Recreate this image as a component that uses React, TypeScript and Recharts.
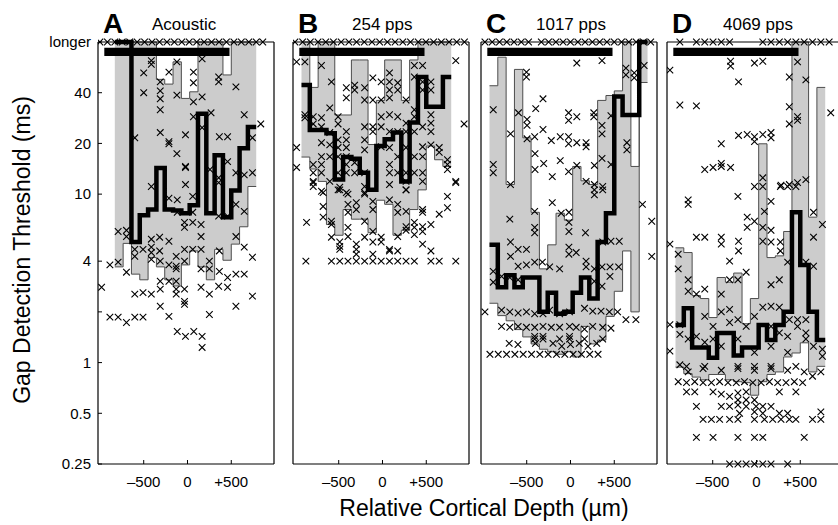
import React from 'react';
import {
  ComposedChart,
  Area,
  Line,
  Scatter,
  XAxis,
  YAxis,
  ReferenceArea,
  ReferenceLine,
} from 'recharts';

type Pt = [number, number];

// Shared depth bins (µm), left edges; each panel starts at its own first bin
const binEdges = [-925, -830, -735, -640, -545, -450, -355, -260, -165, -70, 25, 120, 215, 310, 405, 500, 595, 690, 785, 880];

// ---- A: Acoustic ----
const aFirstBin = 1;
const aHigh = [80, 80, 80, 80, 80, 48, 45, 61, 37, 40.5, 80, 80, 80, 51, 80, 80, 80];
const aLow = [3.7, 5.1, 3.35, 3.1, 4.2, 3.7, 3.1, 2.85, 3.8, 4.6, 3.7, 3.1, 4.7, 4.05, 5.05, 6.4, 11.1];
const aMedian = [80, 80, 5.2, 7.5, 8.1, 14.3, 8.1, 8.0, 7.7, 8.6, 30, 7.7, 17, 7.3, 10.5, 18.7, 25];
const aLonger = [-1000, -915, -830, -745, -660, -575, -490, -405, -320, -235, -150, -65, 20, 105, 190, 275, 360, 445, 530, 615, 700, 785, 860];
const aPoints: Pt[] = [
  [-602, 21.6], [-500, 52.5], [-500, 40], [-413, 62], [-413, 59], [-311, 46.4], [-311, 41], [-311, 36.8],
  [-311, 31.7], [-311, 23.2], [-212, 53], [-212, 20.5], [-212, 19.9], [-121, 61], [-121, 38.7], [-121, 17.4],
  [-23, 22.5], [-23, 14.6], [-23, 14.4], [-23, 11.4], [68, 53], [68, 45.8], [68, 35.3], [68, 28.8], [167, 63.5],
  [167, 37.8], [167, 24.8], [269, 30.4], [257, 14], [356, 49.6], [356, 46.4], [356, 12.5], [356, 11.7],
  [364, 21.9], [458, 21.9], [458, 15.6], [553, 43.3], [553, 13.4], [648, 29.6], [648, 13], [742, 13.4],
  [742, 21.6], [837, 26.1], [-413, 11.1],
  [-792, 6.0], [-697, 6.1], [-697, 5.6], [-886, 3.8], [-792, 3.95], [-697, 3.44], [-981, 2.8], [-886, 1.86],
  [-792, 1.86], [-697, 1.73], [-602, 1.86], [-508, 1.86], [-602, 2.55], [-508, 2.6], [-413, 2.55], [-602, 4.7],
  [-508, 4.7], [-602, 4.27], [-413, 5.4], [-413, 4.85], [-413, 4.5], [-318, 5.55], [-318, 4.6], [-212, 5.25],
  [-413, 4.1], [-311, 4.0], [-212, 3.8], [-311, 3.04], [-212, 3.04], [-311, 2.73], [-311, 2.16], [-212, 1.88],
  [-212, 9.45], [-117, 9.25], [-117, 7.8], [-34, 6.8], [-34, 6.35], [60, 9.7], [60, 7.8], [60, 6.8], [-34, 4.7],
  [60, 4.7], [-129, 4.27], [-34, 4.0], [-129, 3.73], [-129, 3.6], [-129, 3.04], [-129, 2.73], [-34, 2.73],
  [-129, 2.55], [-34, 2.31], [-34, 2.22], [155, 6.6], [155, 5.6], [155, 4.7], [155, 3.6], [155, 2.8], [250, 4.0],
  [250, 3.6], [250, 2.55], [250, 1.93], [356, 7.4], [364, 4.6], [364, 3.48], [356, 2.84], [458, 3.2], [458, 2.8],
  [458, 7.4], [553, 8.7], [553, 5.6], [553, 3.35], [553, 2.16], [648, 7.9], [648, 4.85], [648, 3.35], [742, 4.22],
  [742, 2.48], [-117, 1.53], [-23, 1.43], [72, 1.53], [167, 1.43], [167, 1.23],
];

// ---- B: 254 pps ----
const bFirstBin = 0;
const bHigh = [80, 43, 80, 80, 29.5, 29.5, 62.6, 62.6, 19.7, 36, 62.6, 62.6, 36, 62.6, 80, 80, 80, 80];
const bLow = [16.6, 14.1, 11.9, 6.6, 5.7, 8.1, 7.1, 7.1, 5.9, 9.2, 8.7, 5.7, 6.1, 8.1, 10.6, 19.3, 16, 14.6];
const bMedian = [44.5, 24, 24, 23, 12.2, 16.6, 16.2, 13.4, 10.6, 19.3, 21.2, 23.2, 11.9, 26.6, 49.5, 33, 33, 49.5];
const bLonger = [-1000, -912, -824, -736, -648, -560, -472, -384, -296, -208, -120, -32, 56, 144, 232, 320, 408, 496, 584, 672, 760, 848, 936];
const bPoints: Pt[] = [
  [-981, 61], [-886, 61], [-697, 58], [-583, 46.4], [-981, 14.4], [-886, 29.6], [-886, 28.4], [-791, 28.8],
  [-697, 28.4], [-791, 26.1], [-697, 25.1], [-697, 20.2], [-697, 16.7], [-697, 15], [-697, 13.4], [-791, 15],
  [-791, 13.4], [-791, 11.9], [-697, 10.4], [-602, 32.5], [-602, 23.2], [-602, 19.6], [-602, 16.7], [-602, 11.9],
  [-507, 28.8], [-507, 26.1], [-507, 21], [-507, 18.9], [-507, 16.7], [-507, 13.4], [-507, 10.6], [-413, 42.8],
  [-413, 37.3], [-413, 23.5], [-413, 21], [-413, 18.9], [-413, 16.7], [-413, 15], [-413, 13.4], [-413, 10.2],
  [-318, 44.4], [-318, 41.5], [-318, 15.4], [-318, 13.4], [-204, 42.8], [-204, 36.2], [-204, 25.1], [-204, 21],
  [-204, 18.3], [-204, 13.4], [-204, 10.2], [-110, 49], [-110, 36.2], [-110, 25.1], [-110, 23.5], [-15, 46.4],
  [-15, 36.2], [-15, 28.8], [-15, 25.1], [-15, 19.1], [80, 52.5], [80, 46.4], [80, 41.5], [80, 37.3], [80, 29.6],
  [80, 23.5], [80, 18.9], [80, 15], [80, 13.4], [80, 11.4], [174, 45.8], [174, 41.5], [174, 28.8], [174, 23.5],
  [174, 16.7], [174, 13.4], [269, 36.2], [269, 26.4], [269, 23.5], [269, 18.9], [269, 13.4], [269, 11.9],
  [269, 10.6], [364, 58], [364, 49.6], [364, 31.7], [364, 28.8], [364, 23.5], [364, 16.7], [364, 13.4], [458, 58],
  [458, 46.4], [458, 41.5], [458, 25.1], [458, 19.1], [458, 16.7], [458, 13.4], [458, 11.9], [553, 46.4],
  [553, 41.5], [553, 29.6], [553, 26.4], [553, 23.5], [553, 19.6], [648, 18.9], [648, 17.7], [742, 16], [742, 15],
  [742, 14], [837, 11.9], [837, 62], [932, 26.1], [-981, 18.9],
  [-791, 11.7], [-791, 11.1], [-678, 10.2], [-867, 6.8], [-678, 8.45], [-678, 7.3], [-583, 6.9], [-583, 6.6],
  [-583, 5.55], [-488, 5.2], [-488, 4.9], [-488, 4.7], [-488, 11], [-488, 10.6], [-394, 10], [-394, 8.7],
  [-394, 7.8], [-394, 6.35], [-394, 5.6], [-299, 8.9], [-299, 8.1], [-299, 5.05], [-299, 4.7], [-299, 4.4],
  [-204, 11.1], [-204, 10], [-204, 6.9], [-204, 5.55], [-110, 9.05], [-110, 8.1], [-110, 6.0], [-110, 5.2],
  [-110, 4.4], [-15, 5.55], [-15, 5.2], [80, 9.25], [80, 4.7], [80, 4.6], [174, 8.7], [174, 7.8], [174, 5.6],
  [174, 4.6], [269, 10.6], [269, 7.9], [269, 6.4], [269, 6.1], [364, 6.8], [364, 6.35], [364, 5.75], [458, 8.1],
  [458, 7.8], [458, 6.4], [458, 6.0], [458, 5.05], [553, 6.6], [553, 4.6], [648, 7.6], [742, 9.7], [742, 8.3],
  [837, 11.7],
  [-875, 4], [-583, 4], [-488, 4], [-394, 4], [-299, 4], [-204, 4], [-110, 4], [-15, 4], [80, 4], [174, 4],
  [269, 4], [364, 4], [553, 4], [648, 4], [837, 4],
];

// ---- C: 1017 pps ----
const cFirstBin = 0;
const cHigh = [44, 65, 11.4, 55, 21.6, 7.8, 3.6, 5.0, 7.7, 7.0, 14.6, 12, 11.4, 36, 38.5, 41, 80, 14.6, 80];
const cLow = [2.25, 1.9, 1.77, 1.57, 1.42, 1.29, 1.2, 1.16, 1.12, 1.16, 1.08, 1.64, 1.29, 1.36, 1.88, 2.65, 4.6, 2.0, 46];
const cMedian = [5.0, 2.8, 3.3, 2.8, 3.2, 3.2, 2.0, 2.6, 1.95, 2.0, 2.6, 3.2, 2.4, 5.2, 7.7, 38, 29.5, 29.5, 80];
const cLonger = [-977, -894, -811, -728, -645, -562, -479, -333, -250, -167, -84, 0, 84, 167, 250, 333, 416, 500, 583, 666, 750, 833, 916];
const cPoints: Pt[] = [
  [72, 60], [360, 62], [633, 56], [633, 51], [728, 52.5], [728, 49], [841, 58], [-882, 31.7], [-503, 53],
  [-503, 49.6], [-314, 36.8], [-397, 32.2], [-685, 22.8], [-594, 30.4], [-496, 27.8], [-496, 25.6], [-496, 21.3],
  [-409, 21.9], [-314, 24.2], [-22, 30.4], [-22, 27.4], [72, 28.8], [266, 30.4], [266, 28.8], [360, 25.6],
  [360, 22.8], [462, 29.2], [-219, 20.8], [-117, 21.9], [-22, 21.9], [-22, 19.9], [72, 20.2], [178, 20.2],
  [178, 19.1], [-405, 17.4], [-405, 14], [-306, 15.2], [-117, 15.8], [-208, 12.7], [-22, 13.6], [72, 14.8],
  [273, 14.8], [360, 16.3], [462, 15], [-882, 15], [-882, 13.4], [-685, 11.4], [178, 11.9], [273, 11.4],
  [273, 10.6], [368, 11.1], [273, 9.9], [368, 10.6], [644, 20.2], [644, 18.3],
  [-693, 7.1], [-208, 8.9], [-106, 7.7], [-18, 7.8], [-18, 6.8], [-18, 6.0], [171, 5.9], [-409, 6.35], [-409, 5.9],
  [-409, 7.9], [-685, 5.2], [-685, 4.27], [-598, 4.7], [-503, 4.7], [-503, 3.8], [-598, 3.73], [-409, 3.95],
  [-321, 3.95], [-238, 3.7], [-124, 3.6], [-18, 4.85], [-18, 4.4], [65, 4.5], [178, 4.0], [178, 3.7], [273, 3.6],
  [273, 3.04], [360, 3.7], [360, 2.84], [451, 3.7], [550, 3.7], [451, 3.25], [368, 5.2], [462, 5.25], [557, 5.25],
  [822, 8.7], [928, 6.9], [928, 4.27], [-882, 3.48], [-882, 3.0], [-787, 3.25], [-977, 2.0], [-693, 3.2], [-598, 3.1],
  [-787, 2.05], [-693, 2.0], [-598, 1.97], [-503, 2.0], [-409, 1.95], [-314, 1.95], [-238, 2.05], [-124, 1.95],
  [-11, 2.0], [160, 2.1], [254, 2.02], [349, 2.02], [444, 2.0], [538, 2.0], [633, 1.8], [747, 1.8],
  [-787, 1.64], [-693, 1.62], [-598, 1.64], [-503, 1.62], [-409, 1.62], [-314, 1.64], [-219, 1.62], [-124, 1.62],
  [-11, 1.64], [65, 1.62], [160, 1.58], [254, 1.64], [368, 1.62], [462, 1.6],
  [-409, 1.43], [-409, 1.38], [-314, 1.43], [-314, 1.38], [-124, 1.38], [-11, 1.43], [-11, 1.38], [160, 1.38], [368, 1.38],
  [-700, 1.3], [-600, 1.28], [-400, 1.3], [-200, 1.3], [-100, 1.25], [0, 1.28], [100, 1.3], [200, 1.25], [300, 1.3],
  [-920, 1.12], [-825, 1.12], [-730, 1.12], [-635, 1.12], [-540, 1.12], [-445, 1.12], [-350, 1.12], [-255, 1.12],
  [-160, 1.12], [-65, 1.12], [30, 1.12], [125, 1.12], [220, 1.12], [315, 1.12],
];

// ---- D: 4069 pps ----
const dFirstBin = 0;
const dHigh = [4.8, 4.5, 2.5, 2.4, 1.85, 3.2, 3.0, 3.4, 1.7, 2.4, 19.9, 4.2, 4.3, 6.0, 80, 80, 7.3, 43];
const dLow = [0.94, 0.86, 0.82, 0.79, 0.85, 0.85, 0.79, 0.77, 0.76, 0.64, 0.77, 0.85, 0.88, 1.08, 1.14, 1.31, 0.88, 0.95];
const dMedian = [1.67, 2.1, 1.23, 1.23, 1.07, 1.5, 1.5, 1.1, 1.23, 1.23, 1.67, 1.36, 1.67, 2.0, 7.8, 3.8, 2.0, 1.36];
const dLonger = [-875, -686, -591, -496, -402, -307, 72, 166, 261, 356, 450, 545, 640, 735, 830];
const dPoints: Pt[] = [
  [-989, 54.5], [-296, 61.5], [-296, 57.5], [-23, 60], [72, 61.5], [-205, 46.4], [469, 61], [375, 49.6], [564, 47.7],
  [-875, 33.8], [-686, 33.4], [375, 33], [375, 26.1], [469, 28.8], [469, 27.4], [848, 30.4], [-205, 22.3],
  [-106, 22.6], [-23, 21.9], [-23, 20.5], [72, 22.6], [166, 23.2], [166, 21.6], [-402, 19.9], [-591, 14],
  [-496, 14.4], [-402, 15.2], [-402, 14.6], [-296, 14.4], [-23, 11.1], [72, 12.5], [280, 11.3], [375, 11.4],
  [469, 11.7], [564, 12.2],
  [-780, 9.25], [-780, 8.7], [-686, 5.55], [-591, 5.55], [-402, 5.55], [-402, 5.05], [-212, 9.7], [-205, 5.25],
  [-205, 4.6], [-307, 4.0], [-106, 7.3], [-106, 6.35], [-23, 6.9], [-118, 3.44], [72, 11.1], [91, 7.9], [72, 6.35],
  [72, 5.25], [166, 9.05], [166, 6.1], [273, 11.1], [356, 11.1], [450, 11.1], [166, 5.2], [273, 5.2], [273, 4.6],
  [166, 2.9], [-989, 5.05], [-894, 4.4], [-894, 3.6], [-780, 3.1], [-780, 2.65], [-686, 2.55], [-591, 2.73],
  [651, 7.8], [753, 6.6], [651, 5.55], [564, 3.95], [651, 3.73], [356, 3.95], [261, 3.1], [-307, 3.1], [-402, 2.55],
  [-212, 3.1], [72, 2.13], [166, 2.16], [261, 2.13], [375, 1.8], [469, 1.8], [564, 1.8], [469, 1.64], [564, 1.5],
  [564, 1.38], [651, 1.25], [753, 1.2], [753, 1.09], [-875, 1.68], [-875, 1.47], [-989, 1.68], [-989, 1.17],
  [-591, 1.88], [-496, 1.64], [-402, 2.0], [-307, 2.07], [-307, 1.73], [-212, 1.8], [-118, 1.64], [-23, 1.88],
  [166, 1.64], [261, 1.5], [356, 1.43], [-780, 1.38], [-686, 1.43], [-591, 1.32], [-496, 1.38], [-402, 1.25],
  [-212, 1.38], [-23, 1.15], [166, 1.25], [356, 1.15], [450, 0.95], [-591, 0.95], [-212, 0.95], [-23, 0.95],
  [166, 0.95], [-875, 0.97], [-780, 0.88],
  [-799, 0.95], [-610, 0.92], [-402, 0.9], [-212, 0.92], [-23, 0.9], [166, 0.92], [356, 0.9], [545, 0.88], [735, 0.88],
  [-894, 0.77], [-799, 0.76], [-705, 0.77], [-610, 0.76], [-515, 0.76], [-421, 0.77], [-326, 0.76], [-231, 0.76],
  [-137, 0.77], [-42, 0.76], [53, 0.76], [148, 0.77], [242, 0.76], [337, 0.76], [432, 0.77], [527, 0.76], [640, 0.83],
  [-799, 0.67], [-705, 0.67], [-496, 0.67], [-402, 0.65], [-307, 0.63], [-212, 0.66], [-118, 0.67], [261, 0.67], [450, 0.67],
  [-212, 0.6], [-118, 0.6], [-23, 0.6],
  [-686, 0.55], [-402, 0.55], [-307, 0.55], [-212, 0.56], [-118, 0.55], [-4, 0.55], [72, 0.55], [166, 0.55],
  [-193, 0.5], [-23, 0.51], [72, 0.5], [261, 0.5], [356, 0.5], [735, 0.51],
  [-610, 0.46], [-515, 0.46], [-421, 0.46], [-307, 0.46], [-212, 0.46], [-23, 0.46], [91, 0.46], [185, 0.46],
  [280, 0.46], [375, 0.46], [450, 0.46], [640, 0.46], [735, 0.46],
  [-686, 0.36], [-496, 0.36], [-212, 0.36], [-23, 0.36], [72, 0.36], [545, 0.36],
  [-307, 0.25], [-212, 0.25], [-118, 0.25], [-23, 0.25], [72, 0.25], [166, 0.25], [356, 0.25],
];

// Axis setup
const LONGER = 80;
const X_DOMAIN: [number, number] = [-1022, 988];
const Y_DOMAIN: [number, number] = [0.25, LONGER];
const X_TICKS = [-500, 0, 500];
const Y_TICKS_LEFT = [0.25, 0.5, 1, 2, 4, 10, 20, 40, LONGER];
const Y_TICKS_RIGHT = [0.25, 0.5, 1, 2, 4, 10, 20, 40];
const SPAN_START = -950;
const SPAN_END = 480;

const FONT = '"Liberation Sans", Arial, Helvetica, sans-serif';
const PLOT_W = 176;
const PLOT_TOP = 42;
const PLOT_H = 422;
const CHART_H = 525;

function buildBand(first: number, low: number[], high: number[], med: number[]) {
  const rows = low.map((lo, i) => ({ x: binEdges[first + i], range: [lo, high[i]], med: med[i] }));
  const n = low.length;
  rows.push({ x: binEdges[first + n], range: [low[n - 1], high[n - 1]], med: med[n - 1] });
  return rows;
}

function buildPoints(longer: number[], pts: Pt[]) {
  return [...longer.map((x) => ({ x, y: LONGER })), ...pts.map(([x, y]) => ({ x, y }))];
}

const Cross = (props: any) => {
  const { cx, cy } = props;
  if (cx == null || cy == null) return <g />;
  const r = 3.3;
  return (
    <path
      d={`M${cx - r},${cy - r}L${cx + r},${cy + r}M${cx - r},${cy + r}L${cx + r},${cy - r}`}
      stroke="#000"
      strokeWidth={1.1}
      fill="none"
    />
  );
};

const YTick = (props: any) => {
  const { x, y, payload } = props;
  const v = payload.value;
  if (v === 2) return <g />;
  const isTop = v === LONGER;
  return (
    <text x={x} y={y} dy="0.35em" textAnchor="end" fontSize={15} fontFamily={FONT} fill="#000">
      {isTop ? 'longer' : String(v)}
    </text>
  );
};

const XTick = (props: any) => {
  const { x, y, payload } = props;
  const v = payload.value;
  const label = v < 0 ? `\u2013${Math.abs(v)}` : v > 0 ? `+${v}` : '0';
  return (
    <text x={x} y={y} dy="0.71em" textAnchor="middle" fontSize={15} fontFamily={FONT} fill="#000">
      {label}
    </text>
  );
};

type PanelProps = {
  plotLeft: number;
  yWidth: number;
  showYLabels: boolean;
  band: { x: number; range: number[]; med: number }[];
  points: { x: number; y: number }[];
};

function Panel({ plotLeft, yWidth, showYLabels, band, points }: PanelProps) {
  const width = yWidth + PLOT_W + 3;
  return (
    <div style={{ position: 'absolute', left: plotLeft - yWidth, top: 0 }}>
      <ComposedChart
        width={width}
        height={CHART_H}
        data={band}
        margin={{ top: PLOT_TOP, right: 1, bottom: 0, left: 0 }}
      >
        <XAxis
          dataKey="x"
          type="number"
          domain={X_DOMAIN}
          ticks={X_TICKS}
          allowDataOverflow
          height={CHART_H - PLOT_TOP - PLOT_H}
          tickSize={-4}
          tickMargin={16}
          tick={<XTick />}
          axisLine={{ stroke: '#000', strokeWidth: 1.2 }}
          tickLine={{ stroke: '#000' }}
        />
        <YAxis
          yAxisId="l"
          type="number"
          scale="log"
          domain={Y_DOMAIN}
          ticks={Y_TICKS_LEFT}
          width={yWidth}
          tickSize={-4}
          tickMargin={11}
          tick={showYLabels ? <YTick /> : false}
          axisLine={{ stroke: '#000', strokeWidth: 1.2 }}
          tickLine={{ stroke: '#000' }}
        />
        <YAxis
          yAxisId="r"
          orientation="right"
          type="number"
          scale="log"
          domain={Y_DOMAIN}
          ticks={Y_TICKS_RIGHT}
          width={2}
          tickSize={-4}
          tick={false}
          axisLine={{ stroke: '#000', strokeWidth: 1.2 }}
          tickLine={{ stroke: '#000' }}
        />
        <Area
          yAxisId="l"
          type="stepAfter"
          dataKey="range"
          fill="#cccccc"
          fillOpacity={1}
          stroke="#4d4d4d"
          strokeWidth={1}
          isAnimationActive={false}
        />
        <Scatter yAxisId="l" data={points} dataKey="y" shape={Cross} isAnimationActive={false} />
        <Line
          yAxisId="l"
          type="stepAfter"
          dataKey="med"
          stroke="#000"
          strokeWidth={4.5}
          dot={false}
          isAnimationActive={false}
        />
        <ReferenceLine yAxisId="l" y={LONGER} stroke="#000" strokeWidth={1.2} />
        <ReferenceArea
          yAxisId="l"
          x1={SPAN_START}
          x2={SPAN_END}
          y1={66}
          y2={74}
          fill="#000"
          fillOpacity={1}
          stroke="none"
        />
      </ComposedChart>
    </div>
  );
}

const panels = [
  { letter: 'A', title: 'Acoustic', plotLeft: 98, yWidth: 90, showYLabels: true, band: buildBand(aFirstBin, aLow, aHigh, aMedian), points: buildPoints(aLonger, aPoints) },
  { letter: 'B', title: '254 pps', plotLeft: 293, yWidth: 2, showYLabels: false, band: buildBand(bFirstBin, bLow, bHigh, bMedian), points: buildPoints(bLonger, bPoints) },
  { letter: 'C', title: '1017 pps', plotLeft: 481, yWidth: 2, showYLabels: false, band: buildBand(cFirstBin, cLow, cHigh, cMedian), points: buildPoints(cLonger, cPoints) },
  { letter: 'D', title: '4069 pps', plotLeft: 667, yWidth: 2, showYLabels: false, band: buildBand(dFirstBin, dLow, dHigh, dMedian), points: buildPoints(dLonger, dPoints) },
];

const titleOffsets = [49, 54, 50, 51];

export default function App() {
  return (
    <div
      style={{
        position: 'absolute',
        left: 0,
        top: 0,
        width: 838,
        height: 525,
        overflow: 'hidden',
        background: '#fff',
        fontFamily: FONT,
      }}
    >
      {panels.map((p) => (
        <Panel
          key={p.letter}
          plotLeft={p.plotLeft}
          yWidth={p.yWidth}
          showYLabels={p.showYLabels}
          band={p.band}
          points={p.points}
        />
      ))}
      <svg
        width={838}
        height={525}
        style={{ position: 'absolute', left: 0, top: 0, pointerEvents: 'none' }}
      >
        {panels.map((p, i) => (
          <g key={p.letter}>
            <text x={p.plotLeft + 5} y={33} fontSize={28} fontWeight="bold" fontFamily={FONT} fill="#000">
              {p.letter}
            </text>
            <text x={p.plotLeft + 5 + titleOffsets[i]} y={30} fontSize={17} fontFamily={FONT} fill="#000">
              {p.title}
            </text>
          </g>
        ))}
        <text
          transform="translate(30,250) rotate(-90)"
          textAnchor="middle"
          fontSize={23}
          fontFamily={FONT}
          fill="#000"
        >
          Gap Detection Threshold (ms)
        </text>
        <text x={484} y={516} textAnchor="middle" fontSize={23} fontFamily={FONT} fill="#000">
          Relative Cortical Depth (µm)
        </text>
      </svg>
    </div>
  );
}
